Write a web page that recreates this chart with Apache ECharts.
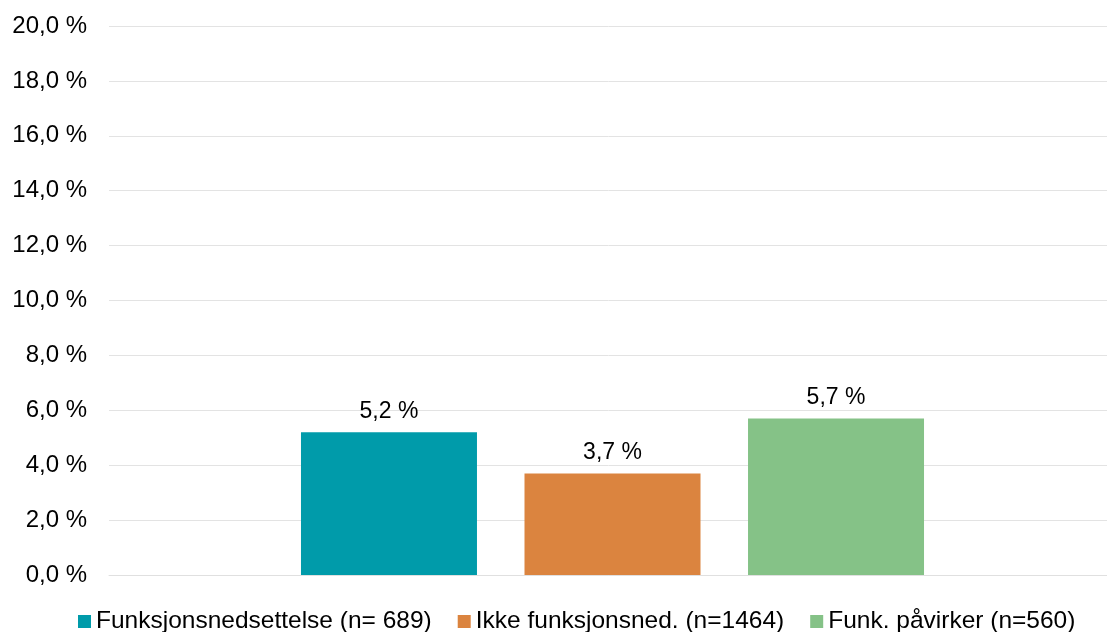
<!DOCTYPE html>
<html>
<head>
<meta charset="utf-8">
<script src="https://cdn.jsdelivr.net/npm/echarts@6/dist/echarts.min.js"></script>
<style>
  html, body { margin: 0; padding: 0; background: #fff; }
  #chart { width: 1107px; height: 632px; }
</style>
</head>
<body>
<div id="chart"></div>
<script>
const categories = [""];
const seriesNames = ["Funksjonsnedsettelse (n= 689)", "Ikke funksjonsned. (n=1464)", "Funk. påvirker (n=560)"];
const seriesValues = [5.2, 3.7, 5.7];
const seriesColors = ["#009BAA", "#DB843F", "#85C287"];

const fmt = (v) => v.toFixed(1).replace(".", ",") + " %";

const chart = echarts.init(document.getElementById("chart"));

const series = seriesNames.map((name, i) => ({
  name: name,
  type: "bar",
  data: [seriesValues[i]],
  barWidth: 176,
  barGap: "27%",
  itemStyle: { color: seriesColors[i] },
  label: {
    show: true,
    position: "top",
    distance: 9,
    color: "#000",
    fontSize: 23,
    formatter: (p) => fmt(p.value)
  }
}));

chart.setOption({
  animation: false,
  textStyle: { fontFamily: "Liberation Sans, Arial, sans-serif" },
  grid: { left: 109, width: 1007, top: 26, bottom: 57, outerBoundsMode: "none" },
  legend: {
    data: seriesNames,
    bottom: -7,
    left: 73,
    itemWidth: 13,
    itemHeight: 13,
    itemGap: 26,
    icon: "rect",
    textStyle: { fontSize: 24.5, color: "#000" }
  },
  xAxis: {
    type: "category",
    data: categories,
    axisLine: { lineStyle: { color: "#e0e0e0" } },
    axisTick: { show: false },
    axisLabel: { show: false }
  },
  yAxis: {
    type: "value",
    min: 0,
    max: 20,
    interval: 2,
    axisLine: { show: false },
    axisTick: { show: false },
    splitLine: { lineStyle: { color: "#e3e3e3", width: 1 } },
    axisLabel: {
      color: "#000",
      fontSize: 24,
      margin: 22,
      formatter: (v) => fmt(v)
    }
  },
  series: series
});
</script>
</body>
</html>
